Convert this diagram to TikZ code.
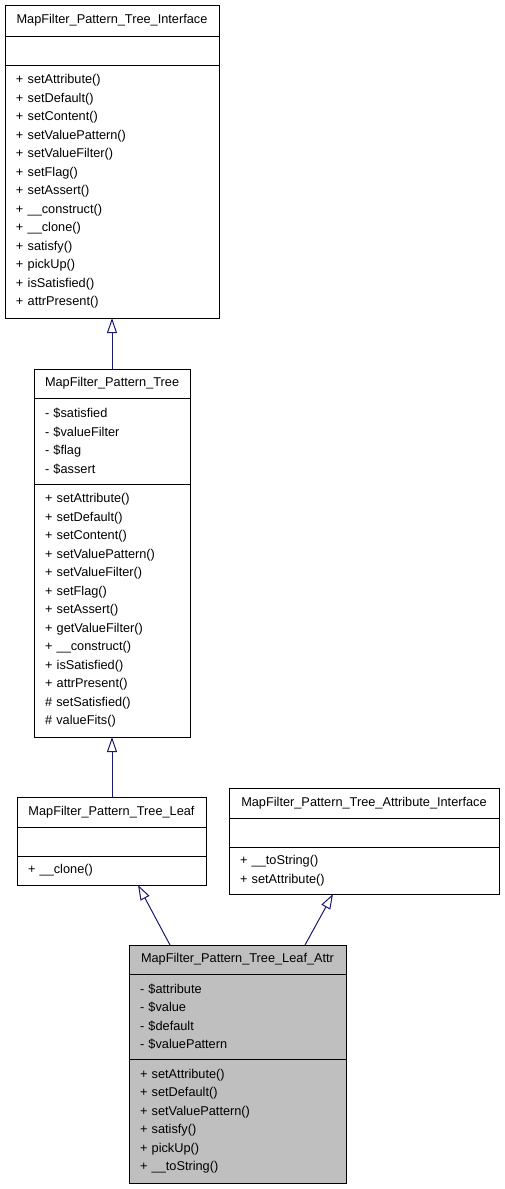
\documentclass[tikz,border=0pt]{standalone}
\usepackage{fontspec}
\setmainfont{Liberation Sans}
\usepackage{xcolor}
\usepackage{tikz}
\usetikzlibrary{arrows.meta,positioning}
\definecolor{midnight}{HTML}{191970}
\definecolor{leafgray}{HTML}{BFBFBF}

\begin{document}
\begin{tikzpicture}[
    x=1pt, y=-1pt,
    font=\fontsize{12.75pt}{18.5pt}\selectfont,
    node distance=0pt,
    umlpart/.style={rectangle, draw=black, line width=1pt, outer sep=0pt, inner xsep=11pt, inner ysep=3pt, anchor=north},
    titlepart/.style={umlpart, align=center},
    listpart/.style={umlpart, align=left},
    inherit/.style={-{Triangle[open, length=15pt, width=10pt]}, draw=midnight, line width=1pt}
]
\useasboundingbox (0,0) rectangle (504,1189);

\node[titlepart, text width=192pt, minimum height=31pt] (ifaceTitle) at (112,5) {MapFilter\_Pattern\_Tree\_Interface};
\node[listpart, text width=192pt, minimum height=29pt, below=of ifaceTitle] (ifaceAttr) {};
\node[listpart, text width=192pt, minimum height=253pt, below=of ifaceAttr] (ifaceOps) {+ setAttribute()\\+ setDefault()\\+ setContent()\\+ setValuePattern()\\+ setValueFilter()\\+ setFlag()\\+ setAssert()\\+ \_\_construct()\\+ \_\_clone()\\+ satisfy()\\+ pickUp()\\+ isSatisfied()\\+ attrPresent()};

\node[titlepart, text width=134pt, minimum height=29pt] (treeTitle) at (112,369) {MapFilter\_Pattern\_Tree};
\node[listpart, text width=134pt, minimum height=86pt, below=of treeTitle] (treeAttr) {- \$satisfied\\- \$valueFilter\\- \$flag\\- \$assert};
\node[listpart, text width=134pt, minimum height=253pt, below=of treeAttr] (treeOps) {+ setAttribute()\\+ setDefault()\\+ setContent()\\+ setValuePattern()\\+ setValueFilter()\\+ setFlag()\\+ setAssert()\\+ getValueFilter()\\+ \_\_construct()\\+ isSatisfied()\\+ attrPresent()\\\# setSatisfied()\\\# valueFits()};

\node[titlepart, text width=167pt, minimum height=30pt] (leafTitle) at (111.5,797) {MapFilter\_Pattern\_Tree\_Leaf};
\node[listpart, text width=167pt, minimum height=29pt, below=of leafTitle] (leafAttr) {};
\node[listpart, text width=167pt, minimum height=29pt, below=of leafAttr] (leafOps) {+ \_\_clone()};

\node[titlepart, text width=248pt, minimum height=30pt] (attrifaceTitle) at (364,788) {MapFilter\_Pattern\_Tree\_Attribute\_Interface};
\node[listpart, text width=248pt, minimum height=29pt, below=of attrifaceTitle] (attrifaceAttr) {};
\node[listpart, text width=248pt, minimum height=47pt, below=of attrifaceAttr] (attrifaceOps) {+ \_\_toString()\\+ setAttribute()};

\node[titlepart, fill=leafgray, text width=195pt, minimum height=29pt] (leafattrTitle) at (237.5,945) {MapFilter\_Pattern\_Tree\_Leaf\_Attr};
\node[listpart, fill=leafgray, text width=195pt, minimum height=85pt, below=of leafattrTitle] (leafattrAttr) {- \$attribute\\- \$value\\- \$default\\- \$valuePattern};
\node[listpart, fill=leafgray, text width=195pt, minimum height=124pt, below=of leafattrAttr] (leafattrOps) {+ setAttribute()\\+ setDefault()\\+ setValuePattern()\\+ satisfy()\\+ pickUp()\\+ \_\_toString()};

\draw[inherit] (treeTitle.north) -- (ifaceOps.south);
\draw[inherit] (leafTitle.north -| treeOps.south) -- (treeOps.south);
\draw[inherit] ([xshift=-67.5pt]leafattrTitle.north) -- ([xshift=26.5pt]leafOps.south);
\draw[inherit] ([xshift=67.5pt]leafattrTitle.north) -- ([xshift=-31pt]attrifaceOps.south);
\end{tikzpicture}
\end{document}
